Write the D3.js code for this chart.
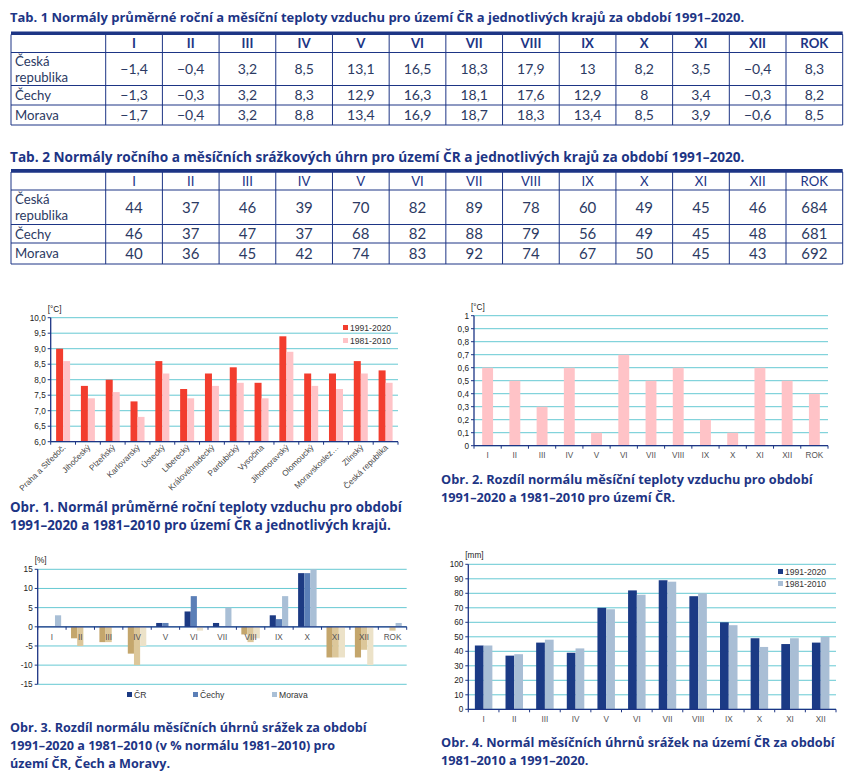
<!DOCTYPE html>
<html>
<head>
<meta charset="utf-8">
<script src="https://cdn.jsdelivr.net/npm/d3@7"></script>
<style>
body{margin:0;background:#fff}
text{font-family:"Liberation Sans",Arial,sans-serif}
.tt{font-family:"Open Sans","Noto Sans",sans-serif}
.tb{font-family:Lato,"Noto Sans",sans-serif}
</style>
</head>
<body>
<svg width="856" height="779"></svg>
<script>
// data
var tabCols = ["I","II","III","IV","V","VI","VII","VIII","IX","X","XI","XII","ROK"]
var months = ["I","II","III","IV","V","VI","VII","VIII","IX","X","XI","XII"]
var rowNames = [["Česká","republika"],["Čechy"],["Morava"]]

var tempCR = ["−1,4","−0,4","3,2","8,5","13,1","16,5","18,3","17,9","13","8,2","3,5","−0,4","8,3"]
var tempCechy = ["−1,3","−0,3","3,2","8,3","12,9","16,3","18,1","17,6","12,9","8","3,4","−0,3","8,2"]
var tempMorava = ["−1,7","−0,4","3,2","8,8","13,4","16,9","18,7","18,3","13,4","8,5","3,9","−0,6","8,5"]

var rainCR = [44,37,46,39,70,82,89,78,60,49,45,46,684]
var rainCechy = [46,37,47,37,68,82,88,79,56,49,45,48,681]
var rainMorava = [40,36,45,42,74,83,92,74,67,50,45,43,692]

var regions = ["Praha a Středoč.","Jihočeský","Plzeňský","Karlovarský","Ústecký","Liberecký","Královéhradecký","Pardubický","Vysočina","Jihomoravský","Olomoucký","Moravskoslez…","Zlínský","Česká republika"]
var regT9120 = [9.0,7.8,8.0,7.3,8.6,7.7,8.2,8.4,7.9,9.4,8.2,8.2,8.6,8.3]
var regT8110 = [8.6,7.4,7.6,6.8,8.2,7.4,7.8,7.9,7.4,8.9,7.8,7.7,8.2,7.9]

var tempDiff = [0.6,0.5,0.3,0.6,0.1,0.7,0.5,0.6,0.2,0.1,0.6,0.5,0.4]

var rainDiffCR = [0,-3,-4,-7,1,4,1,-2,3,14,-8,-8,0]
var rainDiffCechy = [0,-5,-4,-10,1,8,0,-4,2,14,-8,-6,-1]
var rainDiffMorava = [3,0,0,-5,0,-1,5,-3,8,15,-8,-10,1]

var rain9120 = [44,37,46,39,70,82,89,78,60,49,45,46]
var rain8110 = [44,38,48,42,69,79,88,80,58,43,49,50]

var navy = "#1d3585"
var grid = "#66c9d3"
var svg = d3.select("svg")
svg.append("rect").attr("width",856).attr("height",779).attr("fill","#fff")

var comma = function(f){ return function(v){ return f(v).replace(".", ",") } }

// bold blue text, font size picked so that the first line spans width w
var fitText = function(lines, x, y0, w, lh)
{
    var t = svg.selectAll(null).data(lines).enter().append("text").attr("class","tt")
        .attr("x",x).attr("y",function(d,i){return y0+i*lh})
        .attr("fill",navy).attr("font-weight","bold").attr("font-size",10)
        .text(function(d){return d})
    var len = t.node().getComputedTextLength()
    t.attr("font-size", 10*w/len)
}

// ---------- tables ----------
var drawTable = function(title, titleY, top, rowEdges, rows, headBold, fs, vfs)
{
    var g = svg.append("g")
    fitText([title], 10, titleY, 735, 0)

    var x = d3.scaleBand().domain(tabCols).range([105.7, 842.7])
    var left = 11, right = 842.7

    // horizontal lines
    g.selectAll(".hl").data(rowEdges).enter().append("line")
        .attr("x1",left).attr("x2",right)
        .attr("y1",function(d){return d}).attr("y2",function(d){return d})
        .attr("stroke",navy).attr("stroke-width",1)
    g.append("rect").attr("x",left).attr("y",top-3).attr("width",right-left).attr("height",3.5).attr("fill",navy)
    // vertical lines
    var vx = [left].concat(tabCols.map(function(c){return x(c)})).concat([right])
    g.selectAll(".vl").data(vx).enter().append("line")
        .attr("x1",function(d){return d}).attr("x2",function(d){return d})
        .attr("y1",top).attr("y2",rowEdges[rowEdges.length-1])
        .attr("stroke",navy).attr("stroke-width",1)

    // header
    var hy = (rowEdges[0]+rowEdges[1])/2
    g.selectAll(".hd").data(tabCols).enter().append("text").attr("class","tb")
        .attr("x",function(d){return x(d)+x.bandwidth()/2})
        .attr("y",hy).attr("dy","0.36em")
        .attr("text-anchor","middle").attr("font-size",fs)
        .attr("font-weight",headBold ? "bold" : "normal")
        .attr("fill",navy)
        .text(function(d){return d})

    rows.forEach(function(r, i)
    {
        var cy = (rowEdges[i+1]+rowEdges[i+2])/2
        var name = g.append("text").attr("class","tb")
            .attr("x",15).attr("font-size",fs).attr("fill","#2c3a63")
        r.name.forEach(function(s, k)
        {
            name.append("tspan").attr("x",15)
                .attr("y", cy + (k - (r.name.length-1)/2)*16)
                .attr("dy","0.36em").text(s)
        })
        g.selectAll(".v"+i).data(r.vals).enter().append("text").attr("class","tb")
            .attr("x",function(d,j){return x(tabCols[j])+x.bandwidth()/2})
            .attr("y",cy).attr("dy","0.36em")
            .attr("text-anchor","middle").attr("font-size",vfs).attr("fill","#2c3a63")
            .text(function(d){return d})
    })
}

drawTable("Tab. 1 Normály průměrné roční a měsíční teploty vzduchu pro území ČR a jednotlivých krajů za období 1991–2020.",
    21.5, 34.5, [34.5,52.5,85.5,105,125],
    [{name:rowNames[0],vals:tempCR},{name:rowNames[1],vals:tempCechy},{name:rowNames[2],vals:tempMorava}], true, 13.2, 14)

drawTable("Tab. 2 Normály ročního a měsíčních srážkových úhrn pro území ČR a jednotlivých krajů za období 1991–2020.",
    161.5, 172, [172,190,224.5,243,264],
    [{name:rowNames[0],vals:rainCR},{name:rowNames[1],vals:rainCechy},{name:rowNames[2],vals:rainMorava}], false, 13.2, 15)

// ---------- helpers ----------
var yGrid = function(y, ticks, x0, x1, fmt, unit)
{
    var g = svg.append("g")
    g.selectAll(".g").data(ticks).enter().append("line")
        .attr("x1",x0).attr("x2",x1)
        .attr("y1",function(d){return y(d)}).attr("y2",function(d){return y(d)})
        .attr("stroke",grid).attr("stroke-width",1)
    g.selectAll(".t").data(ticks).enter().append("text")
        .attr("x",x0-5).attr("y",function(d){return y(d)}).attr("dy","0.35em")
        .attr("text-anchor","end").attr("font-size",8.2).attr("fill","#222")
        .text(fmt)
    g.selectAll(".tk").data(ticks).enter().append("line")
        .attr("x1",x0-3).attr("x2",x0)
        .attr("y1",function(d){return y(d)}).attr("y2",function(d){return y(d)})
        .attr("stroke",navy)
    g.append("line").attr("x1",x0).attr("x2",x0)
        .attr("y1",y(ticks[0])).attr("y2",y(ticks[ticks.length-1]))
        .attr("stroke",navy).attr("stroke-width",1.3)
    g.append("text").attr("x",x0-3).attr("y",y(ticks[ticks.length-1])-6)
        .attr("font-size",8.2).attr("fill","#222").text(unit)
}

var xBase = function(x, y0, cats)
{
    var edges = cats.map(function(c){return x(c) - x.step()*x.paddingOuter()}).concat([x.range()[1]])
    svg.append("line").attr("x1",x.range()[0]).attr("x2",x.range()[1])
        .attr("y1",y0).attr("y2",y0).attr("stroke",navy).attr("stroke-width",1.3)
    svg.selectAll(null).data(edges).enter().append("line")
        .attr("x1",function(d){return d}).attr("x2",function(d){return d})
        .attr("y1",y0).attr("y2",y0+3).attr("stroke",navy)
}

var legend = function(items, x, y, dy)
{
    items.forEach(function(it, i)
    {
        svg.append("rect").attr("x",x).attr("y",y+i*dy-3).attr("width",5).attr("height",5).attr("fill",it.c)
        svg.append("text").attr("x",x+7).attr("y",y+i*dy).attr("dy","0.35em")
            .attr("font-size",8.6).attr("fill","#333").text(it.t)
    })
}

// ---------- Obr. 1 ----------
var x1 = d3.scaleBand().domain(regions).range([50.7, 398])
var s1 = d3.scaleBand().domain(["a","b"]).range([0,14])
var y1 = d3.scaleLinear().domain([6,10]).range([441.7, 317.7])
yGrid(y1, d3.range(6, 10.01, 0.5), 50.7, 398, comma(d3.format(".1f")), "[°C]")
svg.selectAll(null).data(regions).enter().append("rect")
    .attr("x",function(d){return x1(d)+(x1.bandwidth()-14)/2+s1("a")})
    .attr("width",s1.bandwidth())
    .attr("y",function(d,i){return y1(regT9120[i])})
    .attr("height",function(d,i){return y1(6)-y1(regT9120[i])})
    .attr("fill","#f23d2e")
svg.selectAll(null).data(regions).enter().append("rect")
    .attr("x",function(d){return x1(d)+(x1.bandwidth()-14)/2+s1("b")})
    .attr("width",s1.bandwidth())
    .attr("y",function(d,i){return y1(regT8110[i])})
    .attr("height",function(d,i){return y1(6)-y1(regT8110[i])})
    .attr("fill","#ffc3c7")
xBase(x1, 441.7, regions)
svg.selectAll(null).data(regions).enter().append("text")
    .attr("transform",function(d){return "translate("+(x1(d)+x1.bandwidth()/2+3)+",448) rotate(-45)"})
    .attr("text-anchor","end").attr("font-size",8.2).attr("fill","#444")
    .text(function(d){return d})
legend([{t:"1991-2020",c:"#f23d2e"},{t:"1981-2010",c:"#ffc3c7"}], 343, 328, 13)
fitText(["Obr. 1. Normál průměrné roční teploty vzduchu pro období","1991–2020 a 1981–2010 pro území ČR a jednotlivých krajů."], 10, 512, 392, 18)

// ---------- Obr. 2 ----------
var x2 = d3.scaleBand().domain(tabCols).range([474, 828]).paddingInner(0.6).paddingOuter(0.3)
var y2 = d3.scaleLinear().domain([0,1]).range([445.7, 315.7])
yGrid(y2, d3.range(0, 1.01, 0.1), 474, 828, function(d){return d==0 ? "0" : d>=1 ? "1" : comma(d3.format(".1f"))(d)}, "[°C]")
svg.selectAll(null).data(tempDiff).enter().append("rect")
    .attr("x",function(d,i){return x2(tabCols[i])})
    .attr("width",x2.bandwidth())
    .attr("y",function(d){return y2(d)})
    .attr("height",function(d){return y2(0)-y2(d)})
    .attr("fill","#ffc3c7")
var xb2 = d3.scaleBand().domain(tabCols).range([474, 828])
xBase(xb2, 445.7, tabCols)
svg.selectAll(null).data(tabCols).enter().append("text")
    .attr("x",function(d){return xb2(d)+xb2.bandwidth()/2}).attr("y",455).attr("dy","0.35em")
    .attr("text-anchor","middle").attr("font-size",8.2).attr("fill","#555")
    .text(function(d){return d})
fitText(["Obr. 2. Rozdíl normálu měsíční teploty vzduchu pro období","1991–2020 a 1981–2010 pro území ČR."], 441, 484, 372, 17.5)

// ---------- Obr. 3 ----------
var x3 = d3.scaleBand().domain(tabCols).range([37.7, 406.7])
var s3 = d3.scaleBand().domain(["CR","Cechy","Morava"]).range([0,18.5])
var y3 = d3.scaleLinear().domain([-15,15]).range([684.3, 569.3])
yGrid(y3, d3.range(-15, 15.1, 5), 37.7, 406.7, function(d){return d}, "[%]")
var ser3 = [
    {k:"CR", v:rainDiffCR, pos:"#1c3a83", neg:"#c4a66c"},
    {k:"Cechy", v:rainDiffCechy, pos:"#5b7fb7", neg:"#dcc79a"},
    {k:"Morava", v:rainDiffMorava, pos:"#a9bfd6", neg:"#ece2c8"}]
ser3.forEach(function(s)
{
    svg.selectAll(null).data(s.v).enter().append("rect")
        .attr("x",function(d,i){return x3(tabCols[i])+(x3.bandwidth()-18.5)/2+s3(s.k)})
        .attr("width",s3.bandwidth())
        .attr("y",function(d){return y3(Math.max(0,d))})
        .attr("height",function(d){return Math.abs(y3(d)-y3(0))})
        .attr("fill",function(d){return d<0 ? s.neg : s.pos})
})
xBase(x3, y3(0), tabCols)
svg.selectAll(null).data(tabCols).enter().append("text")
    .attr("x",function(d){return x3(d)+x3.bandwidth()/2}).attr("y",y3(0)+10).attr("dy","0.35em")
    .attr("text-anchor","middle").attr("font-size",8.2).attr("fill","#555")
    .text(function(d){return d})
var leg3 = [{t:"ČR",c:"#1c3a83",x:127},{t:"Čechy",c:"#5b7fb7",x:193},{t:"Morava",c:"#a9bfd6",x:272}]
leg3.forEach(function(it){ legend([it], it.x, 695, 0) })
fitText(["Obr. 3. Rozdíl normálu měsíčních úhrnů srážek za období","1991–2020 a 1981–2010 (v % normálu 1981–2010) pro","území ČR, Čech a Moravy."], 10, 732, 357, 18)

// ---------- Obr. 4 ----------
var x4 = d3.scaleBand().domain(months).range([468.3, 836])
var s4 = d3.scaleBand().domain(["a","b"]).range([0,17.5])
var y4 = d3.scaleLinear().domain([0,100]).range([709.3, 564.3])
yGrid(y4, d3.range(0, 101, 10), 468.3, 836, function(d){return d}, "[mm]")
svg.selectAll(null).data(rain9120).enter().append("rect")
    .attr("x",function(d,i){return x4(months[i])+(x4.bandwidth()-17.5)/2+s4("a")})
    .attr("width",s4.bandwidth())
    .attr("y",function(d){return y4(d)})
    .attr("height",function(d){return y4(0)-y4(d)})
    .attr("fill","#1b3a85")
svg.selectAll(null).data(rain8110).enter().append("rect")
    .attr("x",function(d,i){return x4(months[i])+(x4.bandwidth()-17.5)/2+s4("b")})
    .attr("width",s4.bandwidth())
    .attr("y",function(d){return y4(d)})
    .attr("height",function(d){return y4(0)-y4(d)})
    .attr("fill","#a9bed5")
xBase(x4, 709.3, months)
svg.selectAll(null).data(months).enter().append("text")
    .attr("x",function(d){return x4(d)+x4.bandwidth()/2}).attr("y",719).attr("dy","0.35em")
    .attr("text-anchor","middle").attr("font-size",8.2).attr("fill","#555")
    .text(function(d){return d})
legend([{t:"1991-2020",c:"#1b3a85"},{t:"1981-2010",c:"#a9bed5"}], 778, 572, 12)
fitText(["Obr. 4. Normál měsíčních úhrnů srážek na území ČR za období","1981–2010 a 1991–2020."], 441, 747, 394, 18)
</script>
</body>
</html>
